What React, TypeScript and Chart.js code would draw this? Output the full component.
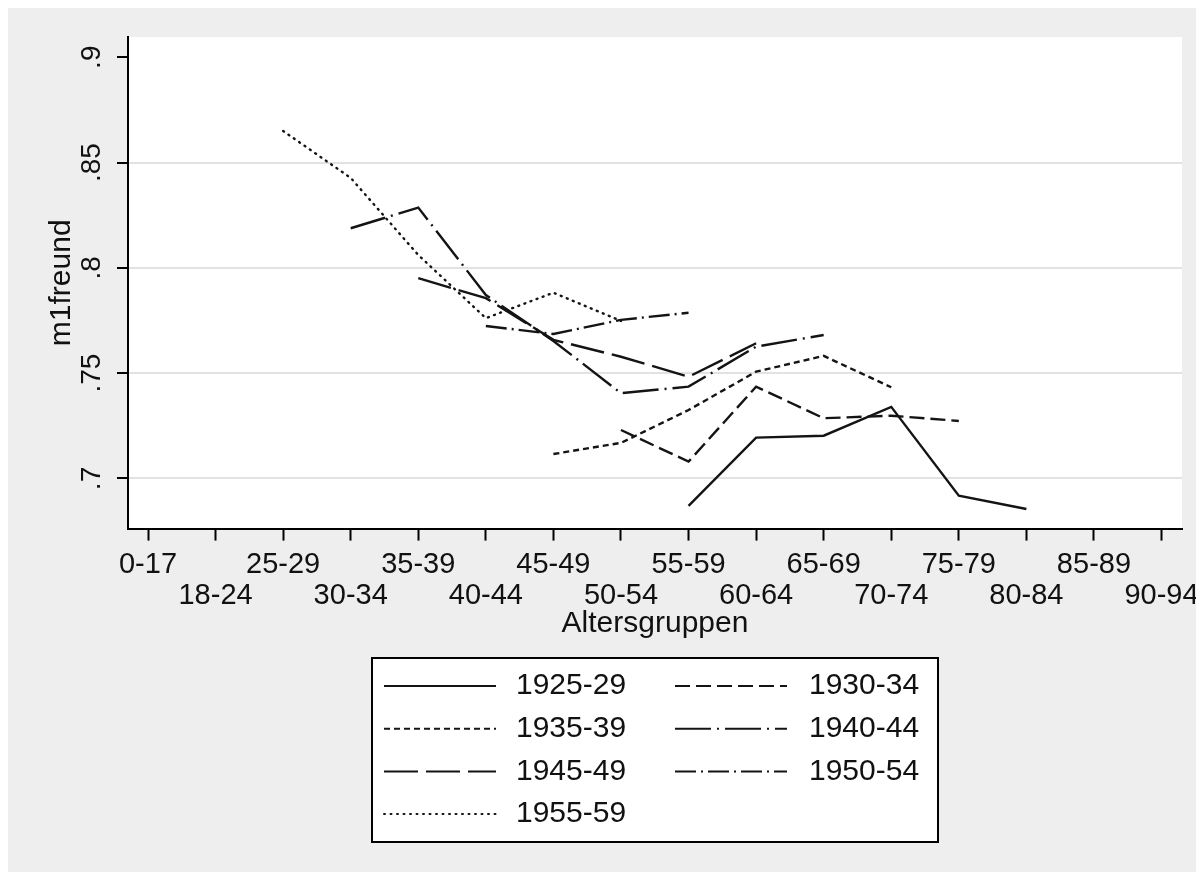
import React, { useEffect, useRef } from 'react';
import { Chart, registerables } from 'chart.js';

Chart.register(...registerables);

const ageGroups = ['0-17', '18-24', '25-29', '30-34', '35-39', '40-44', '45-49', '50-54', '55-59', '60-64', '65-69', '70-74', '75-79', '80-84', '85-89', '90-94'];
const cohortLabels = ['1925-29', '1930-34', '1935-39', '1940-44', '1945-49', '1950-54', '1955-59'];
const yTickValues = [0.7, 0.75, 0.8, 0.85, 0.9];
const xTitle = 'Altersgruppen';
const yTitle = 'm1freund';

const c1925 = [null, null, null, null, null, null, null, null, 0.687, 0.7194, 0.7203, 0.734, 0.6918, 0.6855, null, null];
const c1930 = [null, null, null, null, null, null, null, 0.723, 0.708, 0.7436, 0.7286, 0.7298, 0.7273, null, null, null];
const c1935 = [null, null, null, null, null, null, 0.7116, 0.7169, 0.7325, 0.7507, 0.7582, 0.7433, null, null, null, null];
const c1940 = [null, null, null, 0.8188, 0.8286, 0.7871, 0.7653, 0.7405, 0.7436, 0.7626, 0.7681, null, null, null, null, null];
const c1945 = [null, null, null, null, 0.7951, 0.7856, 0.7658, 0.7578, 0.7483, 0.7642, null, null, null, null, null, null];
const c1950 = [null, null, null, null, null, 0.7724, 0.7686, 0.7753, 0.7787, null, null, null, null, null, null, null];
const c1955 = [null, null, 0.865, 0.8427, 0.8061, 0.7761, 0.7882, 0.7748, null, null, null, null, null, null, null, null];

const seriesValues = [c1925, c1930, c1935, c1940, c1945, c1950, c1955];
const dashPatterns: number[][] = [[], [15, 6], [6, 4], [36, 6, 2, 6], [34, 8], [21, 5, 2, 5], [1, 5.5]];
const capStyles = ['butt', 'butt', 'butt', 'butt', 'butt', 'butt', 'round'];

const FONT = '"Liberation Sans", Arial, Helvetica, sans-serif';
const TEXT = '#111111';
const LINE = '#141414';

const CANVAS_W = 1196;
const CANVAS_H = 864;

const backgroundPlugin = {
  id: 'stataBackground',
  beforeDraw(chart: any) {
    const { ctx, chartArea, width, height } = chart;
    ctx.save();
    ctx.fillStyle = '#eeeeee';
    ctx.fillRect(0, 0, width, height);
    ctx.fillStyle = '#ffffff';
    ctx.fillRect(chartArea.left, chartArea.top, chartArea.right - chartArea.left, chartArea.bottom - chartArea.top);
    ctx.restore();
  },
};

const legendPlugin = {
  id: 'stataLegend',
  afterDraw(chart: any) {
    const { ctx, chartArea } = chart;
    const cx = (chartArea.left + chartArea.right) / 2;
    const boxW = 566;
    const boxH = 184;
    const left = cx - boxW / 2;
    const top = 650;
    ctx.save();
    ctx.fillStyle = '#ffffff';
    ctx.fillRect(left, top, boxW, boxH);
    ctx.strokeStyle = '#000000';
    ctx.lineWidth = 2;
    ctx.setLineDash([]);
    ctx.strokeRect(left, top, boxW, boxH);
    ctx.font = `30px ${FONT}`;
    ctx.textBaseline = 'middle';
    ctx.textAlign = 'left';
    chart.data.datasets.forEach((ds: any, i: number) => {
      const col = i % 2;
      const row = Math.floor(i / 2);
      const y = top + 28 + row * 42.7;
      const sx = left + (col ? 303 : 12);
      ctx.strokeStyle = LINE;
      ctx.lineWidth = 2;
      ctx.lineCap = ds.borderCapStyle || 'butt';
      ctx.setLineDash(ds.borderDash || []);
      ctx.beginPath();
      ctx.moveTo(sx, y);
      ctx.lineTo(sx + 112, y);
      ctx.stroke();
      ctx.setLineDash([]);
      ctx.fillStyle = TEXT;
      ctx.fillText(ds.label, left + (col ? 437 : 144), y);
    });
    ctx.restore();
  },
};

export default function App() {
  const canvasRef = useRef<HTMLCanvasElement | null>(null);

  useEffect(() => {
    const canvas = canvasRef.current;
    if (!canvas) return;

    const datasets = cohortLabels.map((label, i) => ({
      label,
      data: seriesValues[i].map((v, idx) => ({ x: idx, y: v })),
      borderColor: LINE,
      backgroundColor: LINE,
      borderWidth: 2.4,
      borderDash: dashPatterns[i],
      borderCapStyle: capStyles[i],
      pointRadius: 0,
      pointHoverRadius: 0,
      tension: 0,
      spanGaps: false,
      fill: false,
    }));

    const chart = new Chart(canvas, {
      type: 'line',
      data: { datasets },
      options: {
        animation: false,
        responsive: false,
        devicePixelRatio: 1,
        events: [],
        layout: { padding: { top: 29, right: 22, bottom: 230, left: 0 } },
        plugins: {
          legend: { display: false },
          tooltip: { enabled: false },
          title: { display: false },
        },
        scales: {
          x: {
            type: 'linear',
            min: -0.296,
            max: 15.303,
            bounds: 'data',
            afterBuildTicks: (scale: any) => {
              scale.ticks = ageGroups.map((_, i) => ({ value: i }));
            },
            afterFit: (scale: any) => {
              scale.height = 113.4;
              scale.paddingLeft = 0;
              scale.paddingRight = 0;
            },
            grid: {
              display: true,
              drawOnChartArea: false,
              drawTicks: true,
              tickLength: 12,
              tickColor: '#000000',
              tickWidth: 2,
            },
            border: { display: true, color: '#000000', width: 2 },
            ticks: {
              autoSkip: false,
              maxRotation: 0,
              minRotation: 0,
              padding: 9,
              color: TEXT,
              font: { family: FONT, size: 29, lineHeight: 1.069 },
              callback: (value: any) => {
                const i = Math.round(Number(value));
                const lab = ageGroups[i] ?? '';
                return i % 2 === 0 ? lab : ['', lab];
              },
            },
            title: {
              display: true,
              text: xTitle,
              color: TEXT,
              font: { family: FONT, size: 30, lineHeight: 1.2 },
              padding: { top: 0, bottom: 0 },
            },
          },
          y: {
            type: 'linear',
            min: 0.6762,
            max: 0.9096,
            bounds: 'data',
            afterBuildTicks: (scale: any) => {
              scale.ticks = yTickValues.map((v) => ({ value: v }));
            },
            afterFit: (scale: any) => {
              scale.width = 120;
              scale.paddingTop = 0;
              scale.paddingBottom = 0;
            },
            grid: {
              display: true,
              drawOnChartArea: true,
              drawTicks: true,
              tickLength: 11,
              color: (ctx: any) => (ctx.tick && Math.abs(ctx.tick.value - 0.9) < 1e-9 ? 'rgba(0,0,0,0)' : '#e2e2e2'),
              lineWidth: 2,
              tickColor: '#000000',
              tickWidth: 2,
            },
            border: { display: true, color: '#000000', width: 2 },
            ticks: {
              minRotation: 90,
              maxRotation: 90,
              crossAlign: 'center',
              padding: 5,
              color: TEXT,
              font: { family: FONT, size: 28 },
              callback: (value: any) => String(Number(value)).replace(/^0\./, '.'),
            },
            title: {
              display: true,
              text: yTitle,
              color: TEXT,
              font: { family: FONT, size: 30, lineHeight: 1.2 },
              padding: { top: 36, bottom: 0 },
            },
          },
        },
      } as any,
      plugins: [backgroundPlugin, legendPlugin],
    });

    return () => {
      chart.destroy();
    };
  }, []);

  return (
    <div style={{ width: '1188px', height: `${CANVAS_H}px` }}>
      <canvas
        ref={canvasRef}
        width={CANVAS_W}
        height={CANVAS_H}
        style={{ display: 'block', width: `${CANVAS_W}px`, height: `${CANVAS_H}px` }}
      />
    </div>
  );
}
